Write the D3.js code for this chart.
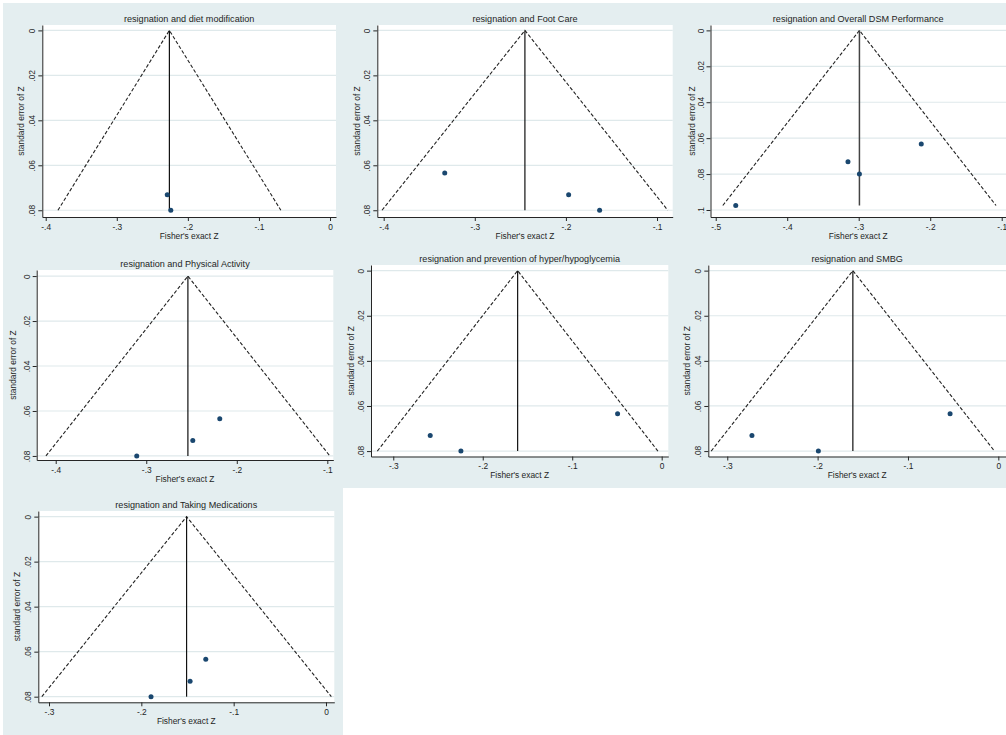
<!DOCTYPE html>
<html><head><meta charset="utf-8">
<script src="https://cdn.jsdelivr.net/npm/d3@7"></script>
<style>
body{margin:0;background:#fff}
svg{display:block}
text{font-family:"Liberation Sans",Arial,sans-serif;fill:#1e1e1e}
</style></head>
<body><svg id="c" width="1006" height="735"></svg>
<script>
// ---------- data ----------
const titles = [
  "resignation and diet modification",
  "resignation and Foot Care",
  "resignation and Overall DSM Performance",
  "resignation and Physical Activity",
  "resignation and prevention of hyper/hypoglycemia",
  "resignation and SMBG",
  "resignation and Taking Medications"
];
const pooledZ = [-0.226, -0.245, -0.299, -0.254, -0.161, -0.161, -0.151];
const maxSE = [0.08, 0.08, 0.0975, 0.08, 0.08, 0.08, 0.08];
const studyZ = [
  [-0.229, -0.224],
  [-0.333, -0.197, -0.163],
  [-0.472, -0.315, -0.299, -0.2125],
  [-0.3105, -0.2486, -0.2188],
  [-0.2587, -0.2244, -0.0493],
  [-0.2727, -0.1992, -0.0534],
  [-0.1895, -0.1472, -0.1302]
];
const studySE = [
  [0.0731, 0.08],
  [0.0634, 0.0731, 0.08],
  [0.0975, 0.0732, 0.08, 0.0633],
  [0.08, 0.0731, 0.0634],
  [0.0731, 0.08, 0.0634],
  [0.0731, 0.08, 0.0634],
  [0.08, 0.0731, 0.0634]
];
const xTicks = [
  [-0.4, -0.3, -0.2, -0.1, 0],
  [-0.4, -0.3, -0.2, -0.1],
  [-0.5, -0.4, -0.3, -0.2, -0.1],
  [-0.4, -0.3, -0.2, -0.1],
  [-0.3, -0.2, -0.1, 0],
  [-0.3, -0.2, -0.1, 0],
  [-0.3, -0.2, -0.1, 0]
];
const yTicksStd = [0, 0.02, 0.04, 0.06, 0.08];
const yTicksDSM = [0, 0.02, 0.04, 0.06, 0.08, 0.1];
const xExtent = [
  [-0.4048, 0.0084], [-0.407, -0.0828], [-0.5073, -0.094],
  [-0.421, -0.0934], [-0.3249, 0.0074], [-0.321, 0.0085], [-0.3116, 0.009]
];
const yExtent = [
  [-0.0024, 0.083], [-0.0024, 0.083], [-0.003, 0.1039],
  [-0.0027, 0.0818], [-0.0025, 0.0824], [-0.0025, 0.0824], [-0.0025, 0.0825]
];
const xTitle = "Fisher's exact Z";
const yTitle = "standard error of Z";
const zCrit = 1.96;

// ---------- layout ----------
const boxes = [
  {l: 42.3, t: 25, r: 336, b: 217, yt: 21},
  {l: 377.3, t: 25, r: 672.7, b: 217, yt: 20},
  {l: 710.5, t: 25, r: 1006, b: 217, yt: 19},
  {l: 36.7, t: 270, r: 333.3, b: 460, yt: 24},
  {l: 371, t: 265, r: 668.3, b: 456.5, yt: 20},
  {l: 708.3, t: 265, r: 1006, b: 456.5, yt: 21},
  {l: 38.3, t: 511, r: 334.3, b: 702.3, yt: 21}
];
const BG = "#e4eef0", GRID = "#dfe9eb", INK = "#262626", MARK = "#1a476f";

const svg = d3.select("#c");
svg.append("path")
  .attr("d", "M3,3H1006V488H343V735H3Z")
  .attr("fill", BG);

const fmt = d => d === 0 ? "0" : String(+d.toFixed(2)).replace("0.", ".");

titles.forEach((title, i) => {
  const bx = boxes[i];
  const x = d3.scaleLinear().domain(xExtent[i]).range([bx.l, bx.r]);
  const y = d3.scaleLinear().domain(yExtent[i]).range([bx.t, bx.b]);
  const yT = i === 2 ? yTicksDSM : yTicksStd;
  const g = svg.append("g");

  g.append("rect").attr("x", bx.l).attr("y", bx.t)
    .attr("width", bx.r - bx.l).attr("height", bx.b - bx.t).attr("fill", "#fff");

  g.selectAll("line.grid").data(yT).join("line").attr("class", "grid")
    .attr("x1", bx.l).attr("x2", bx.r)
    .attr("y1", d => y(d)).attr("y2", d => y(d))
    .attr("stroke", GRID).attr("stroke-width", 1.2);

  // funnel
  const th = pooledZ[i], sm = maxSE[i];
  const fun = [[th - zCrit * sm, sm], [th, 0], [th + zCrit * sm, sm]];
  g.append("path")
    .attr("d", d3.line().x(d => x(d[0])).y(d => y(d[1]))(fun))
    .attr("fill", "none").attr("stroke", "#222").attr("stroke-width", 1.1)
    .attr("stroke-dasharray", "3.6,2");
  g.append("line")
    .attr("x1", x(th)).attr("x2", x(th)).attr("y1", y(0)).attr("y2", y(sm))
    .attr("stroke", i === 2 ? "#444" : "#111").attr("stroke-width", i === 2 ? 1.5 : 1.2);

  // points
  g.selectAll("circle").data(studyZ[i].map((z, k) => [z, studySE[i][k]])).join("circle")
    .attr("cx", d => x(d[0])).attr("cy", d => y(d[1])).attr("r", 2.5)
    .attr("fill", MARK);

  // axes
  const ax = g.append("g").attr("transform", `translate(0,${bx.b})`)
    .call(d3.axisBottom(x).tickValues(xTicks[i]).tickFormat(fmt).tickSize(4).tickSizeOuter(0).tickPadding(3));
  ax.selectAll("text").attr("font-size", "8.4px").attr("fill", INK);
  const ay = g.append("g").attr("transform", `translate(${bx.l},0)`)
    .call(d3.axisLeft(y).tickValues(yT).tickFormat(fmt).tickSize(4).tickSizeOuter(0));
  ay.selectAll("text")
    .attr("font-size", "8.4px").attr("fill", INK)
    .attr("x", 0).attr("y", -7).attr("dy", 0)
    .attr("text-anchor", "middle").attr("transform", "rotate(-90)");
  [ax, ay].forEach(a => {
    a.select(".domain").attr("stroke", INK);
    a.selectAll(".tick line").attr("stroke", INK);
    a.attr("font-family", null);
  });

  // titles
  const cx = (bx.l + bx.r) / 2, cy = (bx.t + bx.b) / 2;
  g.append("text").attr("x", cx).attr("y", bx.t - 3.5)
    .attr("text-anchor", "middle").attr("font-size", "9.1px").text(title);
  g.append("text").attr("x", cx).attr("y", bx.b + 21.5)
    .attr("text-anchor", "middle").attr("font-size", "8.4px").text(xTitle);
  g.append("text")
    .attr("transform", `translate(${bx.l - bx.yt + 3},${cy}) rotate(-90)`)
    .attr("text-anchor", "middle").attr("font-size", "8.4px").text(yTitle);
});
</script>
</body></html>
